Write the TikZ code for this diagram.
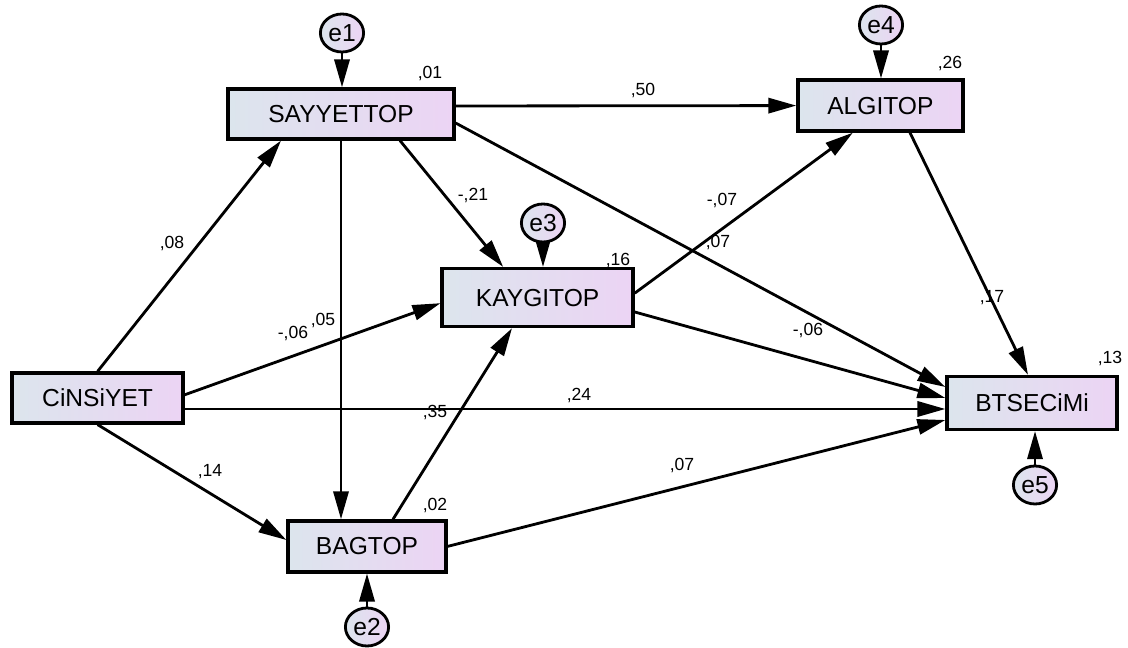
\documentclass[tikz,border=0pt]{standalone}
\usepackage{fontspec}
\setmainfont{Liberation Sans}
\usetikzlibrary{positioning}
\usetikzlibrary{arrows.meta}
\usetikzlibrary{shapes.geometric}
\pgfdeclarelayer{background}
\pgfsetlayers{background,main}
\definecolor{boxleft}{RGB}{220,229,237}
\definecolor{boxright}{RGB}{236,212,244}

\begin{document}
\begin{tikzpicture}[
						varnode/.style={rectangle, draw=black, line width=2.3pt, left color=boxleft, right color=boxright, inner sep=0pt, font=\fontsize{17.5}{20}\selectfont},
						errnode/.style={ellipse, draw=black, line width=2pt, left color=boxleft, right color=boxright, minimum width=1.08cm, minimum height=0.95cm, inner sep=0pt, font=\fontsize{17.5}{20}\selectfont},
						link/.style={line width=2pt, -{Triangle[length=0.7cm, width=0.38cm]}},
						est/.style={inner sep=0pt, font=\fontsize{12.5}{14}\selectfont},
						]
						\useasboundingbox (0,0) rectangle (28.2,16.2);
						%Nodes
						\node[varnode, minimum width=5.65cm, minimum height=1.25cm]	(say)	at	(8.525,13.35)	{SAYYETTOP};
						\node[varnode, minimum width=4.125cm, minimum height=1.275cm]	(alg)	at	(22.01,13.56)	{ALGITOP};
						\node[varnode, minimum width=4.775cm, minimum height=1.45cm]	(kay)	at	(13.44,8.76)	{KAYGITOP};
						\node[varnode, minimum width=4.275cm, minimum height=1.25cm]	(cins)	at	(2.44,6.25)	{CiNSiYET};
						\node[varnode, minimum width=4.25cm, minimum height=1.325cm]	(bt)	at	(25.8,6.125)	{BTSECiMi};
						\node[varnode, minimum width=3.95cm, minimum height=1.275cm]	(bag)	at	(9.175,2.54)	{BAGTOP};

						\node[errnode]	(e1)	at	(8.55,15.375)	{e1};
						\node[errnode]	(e2)	at	(9.175,0.525)	{e2};
						\node[errnode]	(e3)	at	(13.575,10.625)	{e3};
						\node[errnode]	(e4)	at	(22.025,15.575)	{e4};
						\node[errnode]	(e5)	at	(25.875,4.075)	{e5};

						%Squared multiple correlations
						\node[est]	(rsay)	at	(10.75,14.375)	{,01};
						\node[est]	(ralg)	at	(23.75,14.625)	{,26};
						\node[est]	(rkay)	at	(15.45,9.7)	{,16};
						\node[est]	(rbt)	at	(27.75,7.25)	{,13};
						\node[est]	(rbag)	at	(10.875,3.575)	{,02};

						%Path weights
						\node[est]	(wsayalg)	at	(16.075,13.95)	{,50};
						\node[est]	(wcinsay)	at	(4.3,10.125)	{,08};
						\node[est]	(wcinkay)	at	(7.325,7.875)	{-,06};
						\node[est]	(wsaybag)	at	(8.075,8.2)	{,05};
						\node[est]	(wsaykay)	at	(11.825,11.325)	{-,21};
						\node[est]	(wkayalg)	at	(18.05,11.2)	{-,07};
						\node[est]	(wsaybt)	at	(17.95,10.15)	{,07};
						\node[est]	(walgbt)	at	(24.8,8.75)	{,17};
						\node[est]	(wkaybt)	at	(20.2,7.95)	{-,06};
						\node[est]	(wcinbt)	at	(14.475,6.325)	{,24};
						\node[est]	(wbagkay)	at	(10.875,5.9)	{,35};
						\node[est]	(wcinbag)	at	(5.25,4.4)	{,14};
						\node[est]	(wbagbt)	at	(17.05,4.575)	{,07};

						\begin{pgfonlayer}{background}
						%Lines
						\draw[link] (e1) -- (e1 |- say.north);
						\draw[link] (e2) -- (e2 |- bag.south);
						\draw[link] (e3) -- (e3 |- kay.north);
						\draw[link] (e4) -- (e4 |- alg.north);
						\draw[link] (e5) -- (e5 |- bt.south);

						\draw[link] (cins.north) -- ([xshift=-1.5cm]say.south);
						\draw[link] ([yshift=0.08cm]cins.east) -- ([yshift=-0.14cm]kay.west);
						\draw[link] ([yshift=-0.275cm]cins.east) -- ([yshift=-0.15cm]bt.west);
						\draw[link] (cins.south) -- ([yshift=0.16cm]bag.west);

						\draw[link] ([yshift=0.2cm]say.east) -- (alg.west);
						\draw[link] ([xshift=1.475cm]say.south) -- ([xshift=-0.86cm]kay.north);
						\draw[link] ([yshift=-0.225cm]say.east) -- ([yshift=0.4cm]bt.west);
						\draw[link] (say.south) -- (say.south |- bag.north);

						\draw[link] ([xshift=0.65cm]bag.north) -- ([xshift=-0.64cm]kay.south);
						\draw[link] (bag.east) -- ([yshift=-0.425cm]bt.west);

						\draw[link] ([yshift=0.11cm]kay.east) -- ([xshift=-0.69cm]alg.south);
						\draw[link] ([yshift=-0.36cm]kay.east) -- ([yshift=0.125cm]bt.west);

						\draw[link] ([xshift=0.74cm]alg.south) -- ([xshift=-0.1cm]bt.north);
						\end{pgfonlayer}
					\end{tikzpicture}
\end{document}
